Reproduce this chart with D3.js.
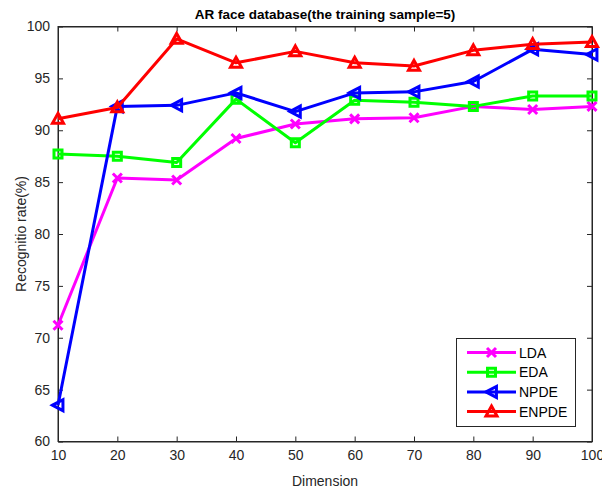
<!DOCTYPE html>
<html><head><meta charset="utf-8">
<script src="https://cdn.jsdelivr.net/npm/d3@7"></script>
<style>body{margin:0;background:#fff}svg{display:block}text{font-family:"Liberation Sans",Arial,sans-serif}</style>
</head><body>
<svg id="c" width="602" height="490"></svg>
<script>
const dims = [10,20,30,40,50,60,70,80,90,100];
const lda   = [71.2,85.4,85.2,89.2,90.6,91.1,91.2,92.3,92.0,92.3];
const eda   = [87.7,87.5,86.9,93.0,88.8,92.9,92.7,92.3,93.3,93.3];
const npde  = [63.5,92.3,92.4,93.6,91.8,93.6,93.7,94.7,97.8,97.3];
const enpde = [91.1,92.2,98.8,96.5,97.6,96.5,96.2,97.7,98.3,98.5];
const seriesNames = ["LDA","EDA","NPDE","ENPDE"];
const xTicks = [10,20,30,40,50,60,70,80,90,100];
const yTicks = [60,65,70,75,80,85,90,95,100];

const colors = ["#ff00ff","#00ff00","#0000ff","#ff0000"];
const markers = ["x","square","ltri","utri"];
const data = [lda,eda,npde,enpde];

const svg = d3.select("#c");
const L=58,R=592,T=26.5,B=441.5;
const x = d3.scaleLinear().domain([10,100]).range([L,R]);
const y = d3.scaleLinear().domain([60,100]).range([B,T]);
const axisCol="#262626";

svg.append("rect").attr("x",L).attr("y",T).attr("width",R-L).attr("height",B-T)
  .attr("fill","#fff").attr("stroke",axisCol).attr("stroke-width",1);

const gx = svg.append("g").attr("transform",`translate(0,${B})`)
  .call(d3.axisBottom(x).tickValues(xTicks).tickSizeInner(-5).tickSizeOuter(0).tickPadding(9));
const gxt = svg.append("g").attr("transform",`translate(0,${T})`)
  .call(d3.axisTop(x).tickValues(xTicks).tickSizeInner(-5).tickSizeOuter(0).tickFormat(""));
const gy = svg.append("g").attr("transform",`translate(${L},0)`)
  .call(d3.axisLeft(y).tickValues(yTicks).tickSizeInner(-5).tickSizeOuter(0).tickPadding(8));
const gyr = svg.append("g").attr("transform",`translate(${R},0)`)
  .call(d3.axisRight(y).tickValues(yTicks).tickSizeInner(-5).tickSizeOuter(0).tickFormat(""));
[gx,gxt,gy,gyr].forEach(g=>{
  g.select(".domain").attr("stroke",axisCol);
  g.selectAll(".tick line").attr("stroke",axisCol);
  g.selectAll("text").attr("fill",axisCol).style("font-size","14px").style("font-family",'"Liberation Sans",Arial,sans-serif');
});

function markerPath(type){
  if(type==="x"){const h=4.5;return `M${-h},${-h}L${h},${h}M${-h},${h}L${h},${-h}`;}
  if(type==="square"){const h=4;return `M${-h},${-h}H${h}V${h}H${-h}Z`;}
  if(type==="ltri"){const h=5.5;return `M${-h},0L${h*0.9},${-h}L${h*0.9},${h}Z`;}
  if(type==="utri"){const h=5.5;return `M0,${-h}L${h},${h*0.8}L${-h},${h*0.8}Z`;}
}

const line = d3.line().x((d,i)=>x(dims[i])).y(d=>y(d));
data.forEach((ser,k)=>{
  const g = svg.append("g");
  g.append("path").datum(ser).attr("d",line).attr("fill","none")
    .attr("stroke",colors[k]).attr("stroke-width",3).attr("stroke-linejoin","round");
  g.selectAll("path.m").data(ser).join("path").attr("class","m")
    .attr("transform",(d,i)=>`translate(${x(dims[i])},${y(d)})`)
    .attr("d",markerPath(markers[k]))
    .attr("fill","none").attr("stroke",colors[k]).attr("stroke-width",3);
});

const lg = svg.append("g");
lg.append("rect").attr("x",456.5).attr("y",338.5).attr("width",119).attr("height",88)
  .attr("fill","#fff").attr("stroke",axisCol).attr("stroke-width",1);
seriesNames.forEach((n,k)=>{
  const yy = 352.5 + k*19.7;
  lg.append("line").attr("x1",467).attr("x2",516).attr("y1",yy).attr("y2",yy)
    .attr("stroke",colors[k]).attr("stroke-width",3);
  lg.append("path").attr("transform",`translate(491.5,${yy})`)
    .attr("d",markerPath(markers[k]))
    .attr("fill","none").attr("stroke",colors[k]).attr("stroke-width",3);
  lg.append("text").attr("x",519).attr("y",yy+5).text(n)
    .style("font-size","14px").attr("fill","#000");
});

svg.append("text").attr("x",325).attr("y",19).attr("text-anchor","middle")
  .style("font-size","13.5px").style("font-weight","bold").attr("fill","#000")
  .text("AR face database(the training sample=5)");
svg.append("text").attr("x",325).attr("y",486).attr("text-anchor","middle")
  .style("font-size","14px").attr("fill",axisCol).text("Dimension");
svg.append("text").attr("transform","translate(26,234)rotate(-90)").attr("text-anchor","middle")
  .style("font-size","14px").attr("fill",axisCol).text("Recognitio rate(%)");
</script>
</body></html>
